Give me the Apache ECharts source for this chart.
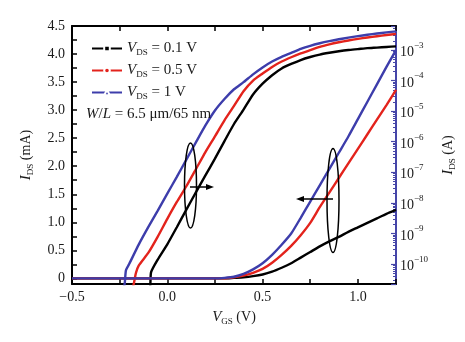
<!DOCTYPE html>
<html><head><meta charset="utf-8">
<script src="https://cdn.jsdelivr.net/npm/echarts@6/dist/echarts.min.js"></script>
<style>html,body{margin:0;padding:0;background:#fff}#c{width:465px;height:342px}</style>
</head><body><div id="c"></div>
<script>
// ---- data ----
const seriesNames = ['0.1 V', '0.5 V', '1 V'];

// Linear plot (left axis, mA)
const linV     = [-0.5, -0.25, 0, 0.25, 0.3, 0.35, 0.4, 0.45, 0.5, 0.55, 0.6, 0.65, 0.7, 0.75, 0.8, 0.85, 0.9, 0.95, 1.0, 1.05, 1.1, 1.15, 1.2];
const linBlack = [0, 0, 0, 0, 0, 0.01, 0.02, 0.04, 0.07, 0.12, 0.19, 0.27, 0.37, 0.47, 0.57, 0.66, 0.74, 0.83, 0.91, 0.99, 1.07, 1.15, 1.22];
const linRed   = [0, 0, 0, 0, 0, 0.02, 0.05, 0.10, 0.17, 0.28, 0.42, 0.58, 0.77, 0.99, 1.27, 1.53, 1.79, 2.05, 2.31, 2.57, 2.83, 3.09, 3.36];
const linBlue  = [0, 0, 0, 0, 0.01, 0.03, 0.08, 0.16, 0.27, 0.42, 0.60, 0.80, 1.08, 1.37, 1.66, 1.95, 2.24, 2.53, 2.84, 3.15, 3.46, 3.77, 4.07];

// Log plot (right axis, A)
const blackLogV = [-0.5, -0.1, -0.09, -0.085, -0.05, 0, 0.05, 0.1, 0.15, 0.2, 0.25, 0.3, 0.35, 0.4, 0.45, 0.5, 0.55, 0.6, 0.65, 0.7, 0.75, 0.8, 0.85, 0.9, 0.95, 1.0, 1.05, 1.1, 1.15, 1.2];
const blackLogI = [1.6e-11, 1.6e-11, 1.8e-11, 5.4e-11, 1.4e-10, 4.4e-10, 1.6e-9, 6.0e-9, 2.2e-8, 7.9e-8, 2.8e-7, 1.05e-6, 3.8e-6, 1.12e-5, 3.5e-5, 7.9e-5, 1.5e-4, 2.5e-4, 3.5e-4, 4.7e-4, 5.9e-4, 7.1e-4, 8.1e-4, 9.1e-4, 1.0e-3, 1.07e-3, 1.15e-3, 1.2e-3, 1.26e-3, 1.32e-3];
const redLogV   = [-0.5, -0.2, -0.18, -0.165, -0.15, -0.1, -0.05, 0, 0.05, 0.1, 0.15, 0.2, 0.25, 0.3, 0.35, 0.4, 0.45, 0.5, 0.55, 0.6, 0.65, 0.7, 0.75, 0.8, 0.85, 0.9, 0.95, 1.0, 1.05, 1.1, 1.15, 1.2];
const redLogI   = [1.6e-11, 1.6e-11, 1.8e-11, 5.0e-11, 8.9e-11, 2.3e-10, 7.9e-10, 3.0e-9, 1.07e-8, 3.5e-8, 1.26e-7, 4.6e-7, 1.5e-6, 5.0e-6, 1.48e-5, 4.5e-5, 1.0e-4, 1.7e-4, 2.8e-4, 4.2e-4, 5.8e-4, 7.7e-4, 9.9e-4, 1.27e-3, 1.53e-3, 1.79e-3, 2.05e-3, 2.31e-3, 2.57e-3, 2.83e-3, 3.09e-3, 3.36e-3];
const blueLogV  = [-0.5, -0.24, -0.225, -0.217, -0.2, -0.15, -0.1, -0.05, 0, 0.05, 0.1, 0.15, 0.2, 0.25, 0.3, 0.35, 0.4, 0.45, 0.5, 0.55, 0.6, 0.65, 0.7, 0.75, 0.8, 0.85, 0.9, 0.95, 1.0, 1.05, 1.1, 1.15, 1.2];
const blueLogI  = [1.6e-11, 1.6e-11, 2.0e-11, 6.3e-11, 1.0e-10, 4.3e-10, 1.6e-9, 5.6e-9, 2.0e-8, 7.1e-8, 2.6e-7, 9.5e-7, 3.4e-6, 1.05e-5, 2.5e-5, 5.2e-5, 8.9e-5, 1.6e-4, 2.7e-4, 4.2e-4, 6.0e-4, 8.0e-4, 1.08e-3, 1.37e-3, 1.66e-3, 1.95e-3, 2.24e-3, 2.53e-3, 2.84e-3, 3.15e-3, 3.46e-3, 3.77e-3, 4.07e-3];

// Tick labels
const leftLabels = [0, 0.5, 1.0, 1.5, 2.0, 2.5, 3.0, 3.5, 4.0, 4.5];
const leftTicks  = [0, 0.25, 0.5, 0.75, 1.0, 1.25, 1.5, 1.75, 2.0, 2.25, 2.5, 2.75, 3.0, 3.25, 3.5, 3.75, 4.0, 4.25, 4.5];
const xLabels    = [-0.5, 0.0, 0.5, 1.0];

// ---- chart ----
const FONT = 'Liberation Serif';
const TXT = '#1a1a1a';
const BLUE_AX = '#4646a8';
const colors = ['#000000', '#e3231c', '#3d3dab'];
const symbols = ['rect', 'circle', 'triangle'];
const pairs = (xs, ys) => xs.map((x, i) => [x, ys[i]]);

const rich = {
  i: { fontFamily: FONT, fontStyle: 'italic', fontSize: 15, color: TXT },
  s: { fontFamily: FONT, fontSize: 9, color: TXT, padding: [8, 0, 0, 0] },
  sup: { fontFamily: FONT, fontSize: 9, color: TXT, padding: [0, 0, 9, 0] },
  n: { fontFamily: FONT, fontSize: 14, color: TXT, padding: [5, 0, 0, 0] }
};

const linSets = [linBlack, linRed, linBlue];
const logSets = [[blackLogV, blackLogI], [redLogV, redLogI], [blueLogV, blueLogI]];

const series = [];
linSets.forEach((arr, k) => series.push({
  name: seriesNames[k], type: 'line', xAxisIndex: 0, yAxisIndex: 0,
  data: pairs(linV, arr), smooth: 0.2, showSymbol: false, symbol: symbols[k], symbolSize: 6,
  lineStyle: { color: colors[k], width: 2.4 }, itemStyle: { color: colors[k], borderColor: '#fff', borderWidth: 1.5 },
  z: 3 + k
}));
logSets.forEach((p, k) => series.push({
  name: seriesNames[k], type: 'line', xAxisIndex: 0, yAxisIndex: 1,
  data: pairs(p[0], p[1]), smooth: 0.2, showSymbol: false, symbol: symbols[k], symbolSize: 6,
  lineStyle: { color: colors[k], width: 2.4 }, itemStyle: { color: colors[k], borderColor: '#fff', borderWidth: 1.5 },
  z: 3 + k
}));

const chart = echarts.init(document.getElementById('c'), null, { renderer: 'canvas' });
chart.setOption({
  animation: false,
  backgroundColor: '#fff',
  textStyle: { fontFamily: FONT },
  grid: { left: 72, right: 68, top: 26, bottom: 58 },
  title: {
    text: '{i|W}/{i|L} = 6.5 μm/65 nm', left: 81, top: 102,
    textStyle: { fontFamily: FONT, fontSize: 15, fontWeight: 'normal', color: TXT, rich: rich }
  },
  legend: {
    orient: 'vertical', left: 86, top: 36, itemWidth: 30, itemHeight: 7, itemGap: 6,
    data: seriesNames,
    formatter: n => '{i|V}{s|DS} = ' + n,
    textStyle: { fontFamily: FONT, fontSize: 15, color: TXT, rich: rich }
  },
  xAxis: [{
    type: 'value', position: 'bottom', min: -0.5, max: 1.2, interval: 0.25,
    axisLine: { onZero: false, lineStyle: { color: '#000', width: 2 } },
    axisTick: { inside: true, length: 5, lineStyle: { color: '#000', width: 1.5 } },
    splitLine: { show: false },
    axisLabel: {
      margin: 6, fontFamily: FONT, fontSize: 14, color: TXT,
      formatter: v => xLabels.some(t => Math.abs(t - v) < 1e-6) ? v.toFixed(1).replace('-', '\u2212') : ''
    },
    name: '{i|V}{s|GS} (V)', nameLocation: 'middle', nameGap: 25,
    nameTextStyle: { fontFamily: FONT, fontSize: 14, color: TXT, rich: rich }
  }, {
    type: 'value', position: 'top', min: -0.5, max: 1.2, interval: 0.25,
    axisLine: { onZero: false, lineStyle: { color: '#000', width: 2 } },
    axisTick: { inside: true, length: 5, lineStyle: { color: '#000', width: 1.5 } },
    axisLabel: { show: false }, splitLine: { show: false }
  }],
  yAxis: [{
    type: 'value', position: 'left', min: -0.1, max: 4.5,
    axisLine: { show: true, onZero: false, lineStyle: { color: '#000', width: 2 } },
    axisTick: { show: true, inside: true, length: 5, customValues: leftTicks, lineStyle: { color: '#000', width: 1.5 } },
    splitLine: { show: false },
    axisLabel: {
      customValues: leftLabels, margin: 7, fontFamily: FONT, fontSize: 14, color: TXT,
      formatter: v => v === 0 ? '0' : v.toFixed(1)
    },
    name: '{i|I}{s|DS} (mA)', nameLocation: 'middle', nameRotate: 90, nameGap: 37,
    nameTextStyle: { fontFamily: FONT, fontSize: 14, color: TXT, rich: rich }
  }, {
    type: 'log', logBase: 10, position: 'right', min: 2.22e-11, max: 6.1e-3,
    axisLine: { show: true, onZero: false, lineStyle: { color: BLUE_AX, width: 2 } },
    axisTick: { show: true, inside: true, length: 5, lineStyle: { color: BLUE_AX, width: 1.2 } },
    minorTick: { show: true, splitNumber: 9, length: 3, lineStyle: { color: BLUE_AX, width: 1 } },
    splitLine: { show: false }, minorSplitLine: { show: false },
    axisLabel: {
      margin: 4, fontFamily: FONT, fontSize: 13, color: TXT, rich: rich,
      formatter: v => {
        const e = Math.log10(v), r = Math.round(e);
        if (Math.abs(e - r) > 0.02) return '';
        return '{n|10}{sup|\u2212' + (-r) + '}';
      }
    },
    name: '{i|I}{s|DS} (A)', nameLocation: 'middle', nameRotate: 90, nameGap: 44,
    nameTextStyle: { fontFamily: FONT, fontSize: 14, color: TXT, rich: rich }
  }],
  series: series,
  graphic: [
    { type: 'ellipse', shape: { cx: 190.5, cy: 185.5, rx: 6, ry: 42.5 }, style: { fill: 'none', stroke: '#000', lineWidth: 1.5 }, z: 10 },
    { type: 'line', shape: { x1: 190, y1: 187, x2: 207, y2: 187 }, style: { stroke: '#000', lineWidth: 1.5 }, z: 10 },
    { type: 'polygon', shape: { points: [[214, 187], [206, 184], [206, 190]] }, style: { fill: '#000' }, z: 10 },
    { type: 'ellipse', shape: { cx: 333, cy: 200.5, rx: 6, ry: 52 }, style: { fill: 'none', stroke: '#000', lineWidth: 1.5 }, z: 10 },
    { type: 'line', shape: { x1: 333, y1: 199, x2: 303, y2: 199 }, style: { stroke: '#000', lineWidth: 1.5 }, z: 10 },
    { type: 'polygon', shape: { points: [[296, 199], [304, 196], [304, 202]] }, style: { fill: '#000' }, z: 10 }
  ]
});
</script></body></html>
